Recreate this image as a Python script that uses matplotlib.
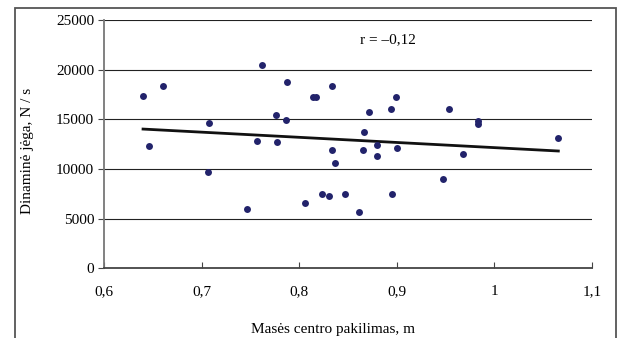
import numpy as np
import matplotlib
matplotlib.use('Agg')
import matplotlib.pyplot as plt
from matplotlib.patches import Rectangle

plt.rcParams['font.family'] = ['Liberation Serif', 'DejaVu Serif']

# mases centro pakilimas (m) and dinamine jega (N/s)
mass_rise = [0.640, 0.646, 0.660, 0.708, 0.707, 0.7465, 0.757, 0.762, 0.776, 0.777,
             0.786, 0.788, 0.814, 0.817, 0.806, 0.8237, 0.831, 0.8466, 0.8616, 0.8947,
             0.9477, 0.8336, 0.8715, 0.8944, 0.8995, 0.9535, 0.9835, 0.9835, 1.0655,
             0.8667, 0.8336, 0.8364, 0.8658, 0.8798, 0.8798, 0.9006, 0.9674]
dyn_force = [17350, 12300, 18350, 14660, 9700, 5940, 12850, 20500, 15400, 12720,
             14960, 18730, 17220, 17220, 6540, 7450, 7280, 7450, 5670, 7450,
             8960, 18380, 15700, 16010, 17220, 16010, 14830, 14530, 13150,
             13750, 11940, 10600, 11940, 12380, 11340, 12110, 11510]

# trend line end points
trend_x = [0.640, 1.0655]
trend_y = [14020, 11810]

x_ticks = [0.6, 0.7, 0.8, 0.9, 1.0, 1.1]
x_labels = ['0,6', '0,7', '0,8', '0,9', '1', '1,1']
y_ticks = [0, 5000, 10000, 15000, 20000, 25000]

fig = plt.figure(figsize=(6.22, 3.38), dpi=100)
ax = fig.add_axes([0.1672, 0.2062, 0.7846, 0.7346])

# outer frame of the chart
fig.patches.append(Rectangle((15/622, -0.05), 601/622, 1.05 - 8/338,
                             transform=fig.transFigure, fill=False,
                             edgecolor='#555555', linewidth=1.3))

for yv in y_ticks[1:]:
    ax.axhline(yv, color='#222222', linewidth=0.8, zorder=1)

ax.scatter(mass_rise, dyn_force, s=25, color='#22236b', zorder=3, linewidths=0)
ax.plot(trend_x, trend_y, color='#111111', linewidth=2, zorder=2)

ax.set_xlim(0.6, 1.1)
ax.set_ylim(0, 25000)
ax.set_xticks(x_ticks)
ax.set_xticklabels(x_labels)
ax.set_yticks(y_ticks)
ax.tick_params(axis='x', direction='in', length=4, labelsize=11, pad=12, color='#444444')
ax.tick_params(axis='y', direction='out', length=4, labelsize=11, pad=3, color='#444444')

for s in ['top', 'right']:
    ax.spines[s].set_visible(False)
ax.spines['left'].set_color('#777777')
ax.spines['bottom'].set_color('#444444')
ax.spines['left'].set_linewidth(1.3)
ax.spines['bottom'].set_linewidth(1.3)

ax.text(0.891, 23000, 'r = \u20130,12', fontsize=11, ha='center', va='center')

fig.text(333/622, 1 - 329/338, 'Mas\u0117s centro pakilimas, m', fontsize=11,
         ha='center', va='center')
fig.text(28/622, 1 - 151/338, 'Dinamin\u0117 j\u0117ga, N / s', fontsize=11,
         ha='center', va='center', rotation=90)

fig.savefig('out.png', dpi=100)
